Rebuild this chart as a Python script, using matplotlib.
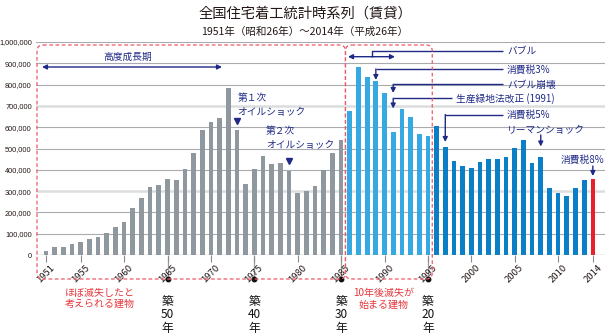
import matplotlib
matplotlib.use("Agg")
import matplotlib.pyplot as plt
from matplotlib.path import Path
from matplotlib.patches import PathPatch
from matplotlib.transforms import IdentityTransform, blended_transform_factory
import numpy as np

plt.rcParams['font.family'] = ['Noto Sans CJK JP', 'DejaVu Sans']

# ---------------- data ----------------
years = list(range(1951, 2015))
starts = [19000, 39000, 39000, 52000, 59000, 74000, 86000, 103000, 130000, 156000,
          221000, 268000, 319000, 330000, 357000, 351000, 402000, 480000, 587000, 623000,
          645000, 782000, 587000, 332000, 404000, 465000, 426000, 432000, 393000, 293000,
          300000, 326000, 399000, 477000, 540000, 676000, 881000, 836000, 815000, 759000,
          579000, 684000, 648000, 567000, 557000, 607000, 509000, 441000, 419000, 410000,
          438000, 449000, 451000, 459000, 501000, 538000, 434000, 459000, 313000, 291000,
          279000, 313000, 354000, 357000]
tick_years = [1951, 1955, 1960, 1965, 1970, 1975, 1980, 1985, 1990, 1995, 2000, 2005, 2010, 2014]
ytick_vals = [0, 100000, 200000, 300000, 400000, 500000, 600000, 700000, 800000, 900000, 1000000]
age_years = [1965, 1975, 1985, 1995]
age_labels = ['50', '40', '30', '20']

title = '全国住宅着工統計時系列（賃貸）'
subtitle = '1951年（昭和26年）～2014年（平成26年）'

C_GRAY = '#8F979F'
C_LBLUE = '#37A9E2'
C_DBLUE = '#0A7FC7'
C_RED = '#E8202A'
NAVY = '#1F2A87'
PINK = '#EE5A6A'
TXT = '#231815'

def bar_color(y):
    if y <= 1985:
        return C_GRAY
    if y <= 1995:
        return C_LBLUE
    if y < 2014:
        return C_DBLUE
    return C_RED

W, H = 610, 336
fig = plt.figure(figsize=(W / 100, H / 100), dpi=100)
L, R, B, T = 36, 605, 255, 42
ax = fig.add_axes([L / W, 1 - B / H, (R - L) / W, (B - T) / H])

ax.set_xlim(1949.85, 2015.4)
ax.set_ylim(0, 1000000)

# grid
for v in ytick_vals[1:]:
    if v in (300000, 700000):
        ax.axhline(v, color='#DCDDDD', lw=1.8, zorder=0)
    else:
        ax.axhline(v, color='#A9ABAE', lw=0.8, zorder=0)
ax.axhline(0, color='#8A8C8E', lw=0.9, zorder=3)

ax.bar(years, starts, width=0.54, color=[bar_color(y) for y in years], zorder=2,
       edgecolor='none')

for s in ax.spines.values():
    s.set_visible(False)
ax.set_yticks(ytick_vals)
ax.set_yticklabels([f'{v:,}' for v in ytick_vals],
                   fontfamily='Liberation Sans', fontsize=5.3, color=TXT)
ax.tick_params(axis='y', length=0, pad=3)
ax.set_xticks(tick_years)
ax.set_xticklabels([str(y) for y in tick_years], rotation=45, ha='center', va='top',
                   fontsize=6.8, color=TXT)
ax.tick_params(axis='x', length=5, width=0.8, color='#8A8C8E', pad=1)

def yv(py):
    return (B - py) / (B - T) * 1000000

def xv(px):
    return 1951 + (px - 46) / 8.68

# title
fig.text(0.5, 1 - 14 / H, title, ha='center', va='center', fontsize=10.3, color=TXT)
fig.text(0.5, 1 - 32 / H, subtitle, ha='center', va='center', fontsize=7.6, color=TXT)

# dashed rounded boxes (drawn in display pixels)
fig.canvas.draw()

def rounded_box(x0, x1, ytop, ybot, r=6):
    # pixel coords measured from top
    y0 = H - ybot
    y1 = H - ytop
    verts = [(x0 + r, y1), (x1 - r, y1), (x1, y1), (x1, y1 - r), (x1, y0 + r), (x1, y0),
             (x1 - r, y0), (x0 + r, y0), (x0, y0), (x0, y0 + r), (x0, y1 - r), (x0, y1),
             (x0 + r, y1)]
    codes = [Path.MOVETO, Path.LINETO, Path.CURVE3, Path.CURVE3, Path.LINETO, Path.CURVE3,
             Path.CURVE3, Path.LINETO, Path.CURVE3, Path.CURVE3, Path.LINETO, Path.CURVE3,
             Path.CURVE3]
    p = PathPatch(Path(verts, codes), transform=IdentityTransform(), fill=False,
                  edgecolor=PINK, lw=0.9, linestyle=(0, (3, 2)), zorder=5)
    fig.add_artist(p)

def xpix(yr):
    return ax.transData.transform((yr, 0))[0]

rounded_box(37, xpix(1985.5), 45, 279)
rounded_box(xpix(1985.5), xpix(1995.5), 45, 279)

trans_xa = blended_transform_factory(ax.transData, ax.transAxes)

def yfrac(py):
    return (B - py) / (B - T)

# age markers
for yr, lab in zip(age_years, age_labels):
    ax.plot([yr, yr], [yfrac(257), yfrac(279)], transform=trans_xa, color='#9A9C9E',
            lw=0.9, clip_on=False, zorder=1)
    ax.plot([yr], [yfrac(279)], 'o', transform=trans_xa, color='#111111', ms=3.2,
            clip_on=False, zorder=6)
    for txt, py in zip(['築', lab, '年'], [301.5, 315, 328.5]):
        ax.text(yr, yfrac(py), txt, transform=trans_xa, ha='center', va='center',
                fontsize=8.5, color='#111111', clip_on=False)

# red notes
for txt, py in zip(['ほぼ滅失したと', '考えられる建物'], [292.5, 304]):
    ax.text(xv(100), yfrac(py), txt, transform=trans_xa, ha='center', va='center',
            fontsize=7.2, color='#E8383D')
for txt, py in zip(['10年後滅失が', '始まる建物'], [293, 304.5]):
    ax.text(xv(384), yfrac(py), txt, transform=trans_xa, ha='center', va='center',
            fontsize=7.2, color='#E8383D')

# navy annotations
AFS = 7.0
LW = 1.0

def arrow(x0, y0, x1, y1, style='-|>'):
    ax.annotate('', xy=(x1, y1), xytext=(x0, y0),
                arrowprops=dict(arrowstyle=style, color=NAVY, lw=LW, mutation_scale=7,
                                shrinkA=0, shrinkB=0), annotation_clip=False)

def line(xs, ys):
    ax.plot(xs, ys, color=NAVY, lw=LW, clip_on=False, solid_capstyle='butt', zorder=6)

# high growth period
ax.text(xv(128), yv(57), '高度成長期', ha='center', va='center', fontsize=AFS, color=NAVY)
arrow(xv(42), yv(67), xv(222), yv(67), '<|-|>')

# oil shocks
ax.text(xv(237.5), yv(98), '第１次', ha='left', va='center', fontsize=AFS, color=NAVY)
ax.text(xv(237.5), yv(112), 'オイルショック', ha='left', va='center', fontsize=AFS, color=NAVY)
ax.plot([1973], [yv(121.5)], marker='v', color=NAVY, ms=4.5, zorder=6)
ax.text(xv(266), yv(131.5), '第２次', ha='left', va='center', fontsize=AFS, color=NAVY)
ax.text(xv(266), yv(145), 'オイルショック', ha='left', va='center', fontsize=AFS, color=NAVY)
ax.plot([1979], [yv(161)], marker='v', color=NAVY, ms=4.5, zorder=6)

TX = xv(507)
# bubble
arrow(xv(348), yv(56.7), xv(395), yv(56.7), '<|-|>')
line([xv(371.7), xv(371.7), xv(503)], [yv(56.7), yv(51.5), yv(51.5)])
ax.text(TX, yv(51), 'バブル', ha='left', va='center', fontsize=AFS, color=NAVY)
# consumption tax 3%
line([xv(503), 1989], [yv(69), yv(69)])
arrow(1989, yv(69), 1989, yv(80))
ax.text(TX, yv(70), '消費税3%', ha='left', va='center', fontsize=AFS, color=NAVY)
# bubble collapse
line([xv(503), 1991], [yv(84.3), yv(84.3)])
arrow(1991, yv(84.3), 1991, yv(93))
ax.text(TX, yv(85), 'バブル崩壊', ha='left', va='center', fontsize=AFS, color=NAVY)
# productive green land law
line([xv(452), 1991], [yv(98.3), yv(98.3)])
arrow(1991, yv(98.3), 1991, yv(108.5))
ax.text(xv(456), yv(99), '生産緑地法改正 (1991)', ha='left', va='center', fontsize=AFS, color=NAVY)
# consumption tax 5%
line([xv(503), 1997], [yv(114.5), yv(114.5)])
arrow(1997, yv(114.5), 1997, yv(142))
ax.text(TX, yv(114.5), '消費税5%', ha='left', va='center', fontsize=AFS, color=NAVY)
# lehman shock
ax.text(TX, yv(130), 'リーマンショック', ha='left', va='center', fontsize=AFS, color=NAVY)
arrow(2008, yv(135), 2008, yv(146.5))
# consumption tax 8%
ax.text(xv(582), yv(160), '消費税8%', ha='center', va='center', fontsize=AFS, color=NAVY)
arrow(2014, yv(166), 2014, yv(176))

fig.savefig('out.png', dpi=100)
